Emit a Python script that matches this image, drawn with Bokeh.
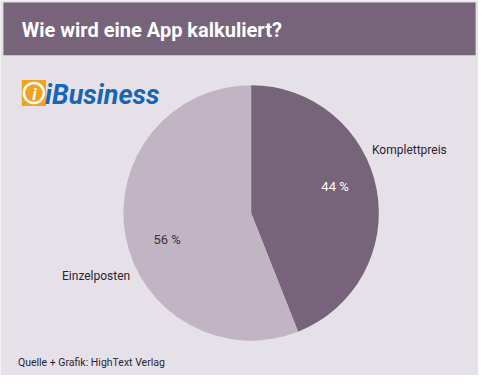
import math
from bokeh.plotting import figure
from bokeh.models import Range1d, ColumnDataSource
from bokeh.core.properties import value
from bokeh.embed import file_html
from bokeh.resources import INLINE

# ---- data ----
categories = ["Komplettpreis", "Einzelposten"]
shares = [44, 56]
pct_labels = ["44 %", "56 %"]
title_text = "Wie wird eine App kalkuliert?"
source_text = "Quelle + Grafik: HighText Verlag"

W, H = 478, 375
RW, RH = 494, 391  # reference design space

p = figure(width=W, height=H, output_backend="svg", toolbar_location=None,
           x_range=Range1d(0, RW), y_range=Range1d(0, RH),
           min_border=0, min_border_left=0, min_border_right=0,
           min_border_top=0, min_border_bottom=0)
p.axis.visible = False
p.grid.visible = False
p.outline_line_color = None
p.background_fill_color = "#e6e1e8"
p.border_fill_color = "#e6e1e8"

def Y(y):
    return RH - y

FONT = value("Roboto")

# header bar
p.quad(left=[3], right=[491], top=[Y(2)], bottom=[Y(57)],
       fill_color="#77637a", line_color=None)
p.text(x=[22], y=[Y(30.5)], text=[title_text], text_font=FONT,
       text_font_style="bold", text_font_size="20px", text_color="white",
       text_baseline="middle", text_align="left")

# logo (iBusiness)
p.quad(left=[22], right=[47], top=[Y(83)], bottom=[Y(110)],
       fill_color="#f2a31b", line_color=None)
p.scatter(x=[34.5], y=[Y(96.5)], size=20, marker="circle",
          fill_color=None, line_color="white", line_width=2.5)
p.text(x=[35], y=[Y(97)], text=["i"], text_font=FONT, text_font_style="bold italic",
       text_font_size="17px", text_color="white", text_align="center",
       text_baseline="middle")
p.text(x=[46], y=[Y(99)], text=["iBusiness"], text_font=FONT,
       text_font_style="bold italic", text_font_size="27px", text_color="#1666b3",
       text_align="left", text_baseline="middle")

# pie
cx, cy, R = 259, Y(221.5), 132
colors = ["#77637a", "#c1b5c3"]
total = sum(shares)
starts, ends, mids = [], [], []
a = math.pi / 2
for s in shares:
    sweep = 2 * math.pi * s / total
    starts.append(a)
    ends.append(a - sweep)
    mids.append(a - sweep / 2)
    a -= sweep
src = ColumnDataSource(dict(start=starts, end=ends, color=colors, cat=categories))
p.wedge(x=cx, y=cy, radius=R, start_angle="start", end_angle="end",
        direction="clock", fill_color="color", line_color=None, source=src)

# percentage labels
off_in = math.radians(7)
pct_colors = ["white", "#3a3040"]
for m, lab, c in zip(mids, pct_labels, pct_colors):
    ang = m + off_in
    r = 0.69 * R
    p.text(x=[cx + r * math.cos(ang)], y=[cy + r * math.sin(ang)], text=[lab],
           text_font=FONT, text_font_size="13px", text_color=c,
           text_align="center", text_baseline="middle")

# category labels
off_out = math.radians(17)
for m, cat in zip(mids, categories):
    ang = m + off_out
    r = 1.07 * R
    x = cx + r * math.cos(ang)
    y = cy + r * math.sin(ang)
    p.text(x=[x], y=[y], text=[cat], text_font=FONT, text_font_size="12px",
           text_color="#2a2430", text_align="left" if math.cos(ang) > 0 else "right",
           text_baseline="middle")

# source
p.text(x=[18], y=[Y(377)], text=[source_text], text_font=FONT,
       text_font_size="10.5px", text_color="#2a2430", text_align="left",
       text_baseline="middle")

open("out.html", "w").write(file_html(p, INLINE))
